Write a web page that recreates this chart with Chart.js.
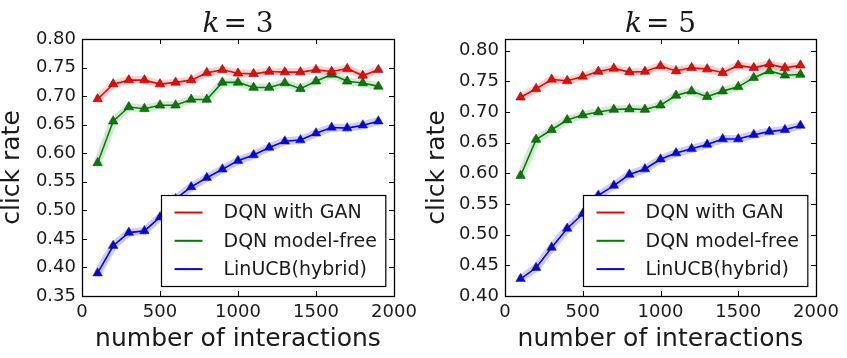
<!DOCTYPE html>
<html>
<head>
<meta charset="utf-8">
<script src="https://cdn.jsdelivr.net/npm/chart.js@4.4.0/dist/chart.umd.min.js"></script>
<style>
  body { margin: 0; background: #fff; }
  .panel { position: absolute; top: 0; height: 358px; }
  #left { left: 0; width: 425px; }
  #right { left: 425px; width: 422px; }
</style>
</head>
<body>
<div class="panel" id="left"><canvas id="chartK3" width="425" height="358"></canvas></div>
<div class="panel" id="right"><canvas id="chartK5" width="422" height="358"></canvas></div>
<script>
// data
const interactions = [100, 200, 300, 400, 500, 600, 700, 800, 900, 1000,
  1100, 1200, 1300, 1400, 1500, 1600, 1700, 1800, 1900];
const seriesNames = ['DQN with GAN', 'DQN model-free', 'LinUCB(hybrid)'];

const k3Gan = [0.695, 0.721, 0.728, 0.728, 0.721, 0.724, 0.728, 0.741, 0.746, 0.740,
  0.739, 0.743, 0.742, 0.742, 0.746, 0.743, 0.748, 0.736, 0.746];
const k3Free = [0.583, 0.656, 0.681, 0.678, 0.684, 0.684, 0.694, 0.694, 0.724, 0.724,
  0.715, 0.715, 0.723, 0.713, 0.726, 0.738, 0.726, 0.723, 0.717];
const k3Lin = [0.390, 0.438, 0.461, 0.464, 0.488, 0.520, 0.541, 0.557, 0.572, 0.587,
  0.597, 0.610, 0.621, 0.623, 0.635, 0.645, 0.644, 0.649, 0.656];

const k5Gan = [0.724, 0.738, 0.753, 0.751, 0.758, 0.766, 0.771, 0.765, 0.766, 0.775,
  0.767, 0.772, 0.770, 0.764, 0.776, 0.772, 0.778, 0.772, 0.776];
const k5Free = [0.596, 0.655, 0.671, 0.687, 0.695, 0.700, 0.704, 0.705, 0.704, 0.711,
  0.727, 0.734, 0.725, 0.734, 0.741, 0.756, 0.767, 0.760, 0.761];
const k5Lin = [0.428, 0.446, 0.479, 0.510, 0.534, 0.564, 0.580, 0.598, 0.607, 0.623,
  0.633, 0.640, 0.647, 0.656, 0.656, 0.663, 0.668, 0.671, 0.678];

const xTicks = [0, 500, 1000, 1500, 2000];
const yTicksK3 = [0.35, 0.40, 0.45, 0.50, 0.55, 0.60, 0.65, 0.70, 0.75, 0.80];
const yTicksK5 = [0.40, 0.45, 0.50, 0.55, 0.60, 0.65, 0.70, 0.75, 0.80];

const colors = ['#ff0000', '#008000', '#0000ff'];
const bandColors = ['rgba(255,0,0,0.18)', 'rgba(0,128,0,0.18)', 'rgba(0,0,255,0.2)'];
const textColor = '#1a1a1a';
const sans = "'DejaVu Sans', sans-serif";

// frame, inward ticks, math title and in-plot legend like matplotlib
const decorPlugin = {
  id: 'decor',
  afterDraw(chart, args, opts) {
    const { ctx, chartArea: a, scales: { x, y } } = chart;
    ctx.save();
    ctx.strokeStyle = '#000';
    ctx.lineWidth = 1;
    ctx.beginPath();
    x.ticks.forEach(t => {
      const px = Math.round(x.getPixelForValue(t.value)) + 0.5;
      ctx.moveTo(px, a.bottom); ctx.lineTo(px, a.bottom - 5);
      ctx.moveTo(px, a.top); ctx.lineTo(px, a.top + 5);
    });
    y.ticks.forEach(t => {
      const py = Math.round(y.getPixelForValue(t.value)) + 0.5;
      ctx.moveTo(a.left, py); ctx.lineTo(a.left + 5, py);
      ctx.moveTo(a.right, py); ctx.lineTo(a.right - 5, py);
    });
    ctx.stroke();
    ctx.lineWidth = 1.3;
    ctx.strokeRect(Math.round(a.left) + 0.5, Math.round(a.top) + 0.5,
      Math.round(a.width), Math.round(a.height));

    // title  k = n
    ctx.fillStyle = textColor;
    ctx.textBaseline = 'alphabetic';
    const kFont = "italic 28px 'DejaVu Serif', serif";
    const rest = '= ' + opts.k;
    const restFont = "28px 'DejaVu Serif', serif";
    ctx.font = kFont;
    const wk = ctx.measureText('k').width + 4;
    ctx.font = restFont;
    const wr = ctx.measureText(rest).width;
    let tx = (a.left + a.right) / 2 - (wk + wr) / 2;
    ctx.font = kFont;
    ctx.textAlign = 'left';
    ctx.fillText('k', tx, 32);
    ctx.font = restFont;
    ctx.fillText(rest, tx + wk, 32);

    // legend box
    ctx.font = '19px ' + sans;
    const names = chart.data.datasets.filter(d => !d.band);
    const tw = Math.max(...names.map(d => ctx.measureText(d.label).width));
    const bw = 13 + 28 + 21 + tw + 9;
    const bh = 91;
    const bx = Math.round(a.right - 9 - bw) + 0.5;
    const by = Math.round(a.bottom - 10 - bh) + 0.5;
    ctx.fillStyle = '#fff';
    ctx.fillRect(bx, by, bw, bh);
    ctx.lineWidth = 1.2;
    ctx.strokeStyle = '#000';
    ctx.strokeRect(bx, by, bw, bh);
    ctx.textBaseline = 'middle';
    names.forEach((d, i) => {
      const ry = by + 17 + i * 28.3;
      ctx.strokeStyle = d.borderColor;
      ctx.lineWidth = 2;
      ctx.beginPath();
      ctx.moveTo(bx + 13, ry); ctx.lineTo(bx + 41, ry);
      ctx.stroke();
      ctx.fillStyle = textColor;
      ctx.fillText(d.label, bx + 62, ry + 1);
    });
    ctx.restore();
  }
};

function makeDatasets(series) {
  const sets = [];
  series.forEach((vals, i) => {
    sets.push({
      label: seriesNames[i],
      data: interactions.map((v, j) => ({ x: v, y: vals[j] })),
      borderColor: colors[i],
      backgroundColor: colors[i],
      borderWidth: 1.6,
      pointStyle: 'triangle',
      pointRadius: 5.5,
      pointBorderColor: '#222',
      pointBorderWidth: 0.5,
      pointBackgroundColor: colors[i],
      order: 1
    });
    sets.push({
      label: seriesNames[i] + ' band',
      band: true,
      data: interactions.map((v, j) => ({ x: v, y: vals[j] })),
      borderColor: bandColors[i],
      borderWidth: 8,
      pointRadius: 0,
      order: 2
    });
  });
  return sets;
}

function makeChart(id, k, series, yTicks, yMin, yMax, leftWidth) {
  new Chart(document.getElementById(id), {
    type: 'line',
    data: { datasets: makeDatasets(series) },
    options: {
      responsive: false,
      animation: false,
      layout: { padding: { top: 39, right: 31, left: 0, bottom: 0 } },
      plugins: {
        legend: { display: false },
        tooltip: { enabled: false },
        decor: { k: k }
      },
      scales: {
        x: {
          type: 'linear',
          min: 0, max: 2000,
          afterBuildTicks: s => { s.ticks = xTicks.map(v => ({ value: v })); },
          afterFit: s => { s.height = 62; },
          grid: { display: false, drawTicks: false },
          border: { display: false },
          ticks: {
            color: textColor, font: { family: sans, size: 18 }, padding: 6, maxRotation: 0,
            callback: v => String(v)
          },
          title: {
            display: true, text: 'number of interactions', color: textColor,
            font: { family: sans, size: 25, lineHeight: 1 }, padding: { top: 0, bottom: 6 }
          }
        },
        y: {
          min: yMin, max: yMax,
          afterBuildTicks: s => { s.ticks = yTicks.map(v => ({ value: v })); },
          afterFit: s => { s.width = leftWidth; },
          grid: { display: false, drawTicks: false },
          border: { display: false },
          ticks: {
            color: textColor, font: { family: sans, size: 18 }, padding: 6,
            callback: v => v.toFixed(2)
          },
          title: {
            display: true, text: 'click rate', color: textColor,
            font: { family: sans, size: 25, lineHeight: 1 }, padding: { top: 0, bottom: 0 }
          }
        }
      }
    },
    plugins: [decorPlugin]
  });
}

makeChart('chartK3', 3, [k3Gan, k3Free, k3Lin], yTicksK3, 0.35, 0.80, 82);
makeChart('chartK5', 5, [k5Gan, k5Free, k5Lin], yTicksK5, 0.40, 0.819, 80);
</script>
</body>
</html>
